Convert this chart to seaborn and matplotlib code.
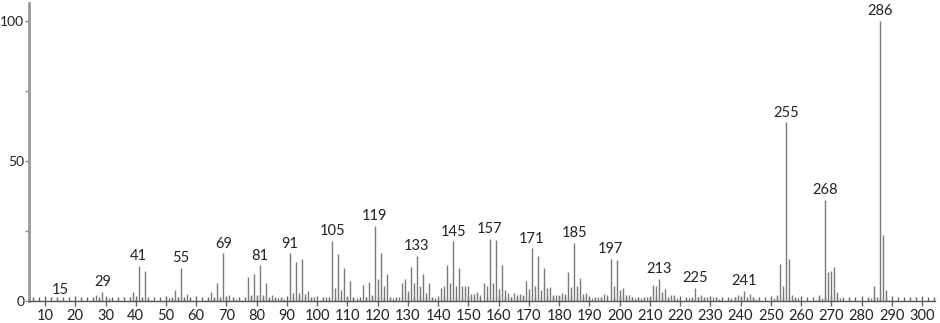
import numpy as np
import pandas as pd
import matplotlib
matplotlib.use("Agg")
import matplotlib.pyplot as plt
import seaborn as sns
from matplotlib.ticker import MultipleLocator

# m/z values and relative intensities
mz = [15, 26, 27, 28, 29, 30, 31, 39, 40, 41, 42, 43, 44, 45,
      50, 51, 52, 53, 54, 55, 56, 57, 58, 63, 64, 65, 66, 67, 68, 69, 70, 71, 72, 73, 74, 75,
      77, 78, 79, 80, 81, 82, 83, 84, 85, 86, 87, 88, 89, 90, 91, 92, 93, 94, 95, 96, 97, 98, 99,
      101, 102, 103, 104, 105, 106, 107, 108, 109, 110, 111, 112, 113, 114, 115, 116, 117, 118, 119, 120,
      121, 122, 123, 124, 125, 127, 128, 129, 130, 131, 132, 133, 134, 135, 136, 137, 138, 139,
      141, 142, 143, 144, 145, 146, 147, 148, 149, 150, 151, 152, 153, 154, 155, 156, 157, 158, 159, 160,
      161, 162, 163, 164, 165, 166, 167, 168, 169, 170, 171, 172, 173, 174, 175, 176, 177, 178, 179, 180,
      181, 182, 183, 184, 185, 186, 187, 188, 189, 190, 191, 192, 193, 194, 195, 196, 197, 198, 199, 200,
      201, 202, 203, 204, 205, 206, 207, 208, 209, 210, 211, 212, 213, 214, 215, 216, 217, 218, 219,
      222, 223, 224, 225, 226, 227, 228, 229, 230, 231, 232, 233, 236, 237, 238, 239, 240, 241, 242, 243, 244,
      245, 246, 250, 251, 252, 253, 254, 255, 256, 257, 258, 259, 265, 266, 267, 268, 269, 270, 271, 272, 273,
      282, 283, 284, 285, 286, 287, 288, 289]
intensity = [0.5, 0.5, 2.0, 0.8, 3.2, 0.6, 1.0, 3.3, 0.8, 12.5, 1.2, 10.7, 0.6, 0.5,
             0.4, 1.2, 0.8, 4.0, 1.0, 11.9, 1.2, 2.5, 0.5, 0.5, 0.8, 3.3, 1.0, 6.5, 1.2, 17.0, 1.5, 2.3, 0.6, 0.6, 0.5, 0.5,
             8.7, 2.0, 9.6, 2.0, 12.7, 2.0, 6.3, 1.2, 2.0, 0.8, 1.0, 0.6, 0.8, 0.5, 17.0, 3.0, 13.8, 3.0, 15.1, 2.5, 3.5, 1.2, 1.3,
             0.5, 0.5, 1.5, 0.8, 21.4, 4.6, 16.8, 3.9, 11.9, 1.5, 7.1, 1.0, 1.0, 0.5, 5.7, 1.5, 6.8, 2.0, 26.8, 8.0,
             17.3, 5.4, 9.5, 1.2, 1.0, 1.5, 6.5, 7.9, 3.5, 12.3, 6.3, 16.2, 5.5, 9.5, 3.0, 6.5, 1.0, 1.0,
             4.6, 5.5, 12.7, 6.3, 21.3, 5.5, 11.9, 5.2, 5.2, 5.2, 2.5, 2.5, 3.2, 2.0, 6.4, 5.2, 22.3, 6.3, 21.8, 4.4,
             12.7, 3.9, 3.0, 1.5, 3.0, 2.0, 2.5, 2.0, 7.1, 4.3, 18.8, 5.4, 15.9, 4.1, 11.9, 4.5, 5.0, 2.0, 2.0, 2.0,
             3.0, 2.5, 10.5, 5.0, 20.8, 5.5, 8.2, 2.5, 3.0, 1.0, 1.0, 1.0, 1.5, 1.0, 2.5, 2.0, 15.0, 5.4, 14.5, 3.9,
             4.6, 2.0, 2.0, 1.5, 1.0, 1.0, 1.0, 1.0, 1.5, 1.0, 5.7, 5.5, 7.9, 3.3, 4.4, 1.0, 2.0, 2.0, 1.0,
             0.5, 1.0, 1.0, 4.6, 1.5, 2.0, 1.0, 1.5, 1.5, 1.5, 1.0, 0.6, 0.5, 1.0, 1.5, 2.0, 1.0, 3.6, 0.6, 2.5, 1.0,
             0.6, 0.5, 0.5, 1.0, 2.0, 13.2, 5.2, 63.8, 15.1, 2.0, 1.0, 1.0, 0.5, 2.0, 1.0, 36.0, 10.2, 10.7, 12.1, 3.1, 1.0,
             1.0, 1.0, 5.5, 1.5, 100.0, 23.6, 3.9, 0.5]
labelled_mz = [15, 29, 41, 55, 69, 81, 91, 105, 119, 133, 145, 157, 171, 185, 197, 213, 225, 241, 255, 268, 286]
x_ticks = list(range(10, 301, 10))
y_ticks = [0, 50, 100]

df = pd.DataFrame({"mz": mz, "intensity": intensity})

sns.set_theme(style="ticks")
plt.rcParams["font.family"] = ["Lato", "DejaVu Sans"]

fig = plt.figure(figsize=(9.4, 3.23), dpi=100)
ax = fig.add_axes([29 / 940, 22 / 323, 906 / 940, 298 / 323])

ax.vlines(df["mz"], 0, df["intensity"], color="#7a7a7a", linewidth=1.0)

lookup = dict(zip(mz, intensity))
for m in labelled_mz:
    ax.annotate(str(m), xy=(m, lookup[m]), xytext=(0, 2), textcoords="offset points",
                ha="center", va="bottom", fontsize=10.5, color="#222222")

ax.set_xlim(4.7, 304.3)
ax.set_ylim(0, 106.4)
ax.set_xticks(x_ticks)
ax.set_yticks(y_ticks)
ax.xaxis.set_minor_locator(MultipleLocator(2))
ax.yaxis.set_minor_locator(MultipleLocator(25))
ax.tick_params(axis="x", which="major", direction="inout", length=7, width=1, color="#666666",
               labelsize=10.5, labelcolor="#222222", pad=2)
ax.tick_params(axis="x", which="minor", direction="in", length=3, width=1, color="#666666")
ax.tick_params(axis="y", which="major", direction="out", length=3, width=1, color="#888888",
               labelsize=10, labelcolor="#222222", pad=0.5)
ax.tick_params(axis="y", which="minor", direction="out", length=3, width=1, color="#888888")

for s in ["top", "right"]:
    ax.spines[s].set_visible(False)
ax.spines["left"].set_color("#999999")
ax.spines["left"].set_linewidth(2)
ax.spines["bottom"].set_color("#555555")
ax.spines["bottom"].set_linewidth(1)
ax.set_xlabel("")
ax.set_ylabel("")

fig.savefig("out.png", dpi=100)
